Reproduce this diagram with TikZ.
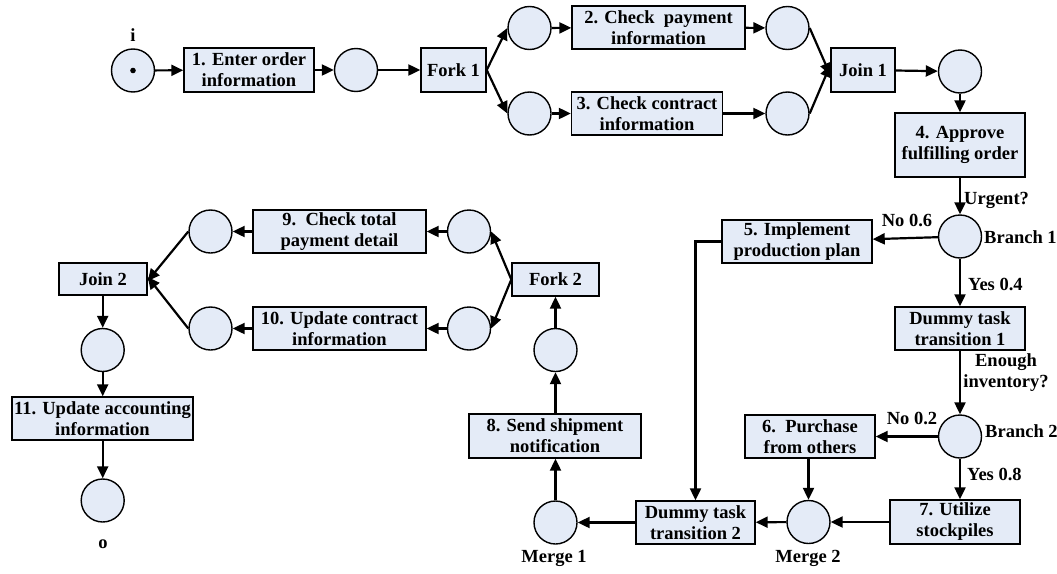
\documentclass[tikz,border=0pt]{standalone}
\usepackage{fontspec}
\setmainfont{Liberation Serif}
\usetikzlibrary{arrows.meta}
\definecolor{boxfill}{RGB}{228,235,247}
\begin{document}
\begin{tikzpicture}[x=1pt,y=-1pt,
  every node/.style={font=\fontsize{18.5}{21}\selectfont\bfseries},
  task/.style={draw=black,line width=1.4pt,fill=boxfill,rectangle,inner sep=0pt,align=center},
  place/.style={draw=black,line width=1.4pt,fill=boxfill,circle,minimum size=43pt,inner sep=0pt},
  lbl/.style={inner sep=0pt},
  flow/.style={line width=2.2pt,-{Triangle[length=12pt,width=11pt]}}]
\useasboundingbox (0,0) rectangle (1057,573);

% places
\node[place] (pi)   at (133,70.5) {};
\fill (pi.center) circle (2.8pt);
\node[place] (p1)   at (356,70) {};
\node[place] (p2a)  at (529.5,28) {};
\node[place] (p3a)  at (529.5,113.5) {};
\node[place] (p2b)  at (787.5,28) {};
\node[place] (p3b)  at (787.5,113.5) {};
\node[place] (p4)   at (960,71.5) {};
\node[place] (br1)  at (960,236.5) {};
\node[place] (br2)  at (960,436.5) {};
\node[place] (mg2)  at (808.5,522) {};
\node[place] (mg1)  at (555.5,522.5) {};
\node[place] (p8)   at (555.5,350) {};
\node[place] (p9a)  at (469,231.5) {};
\node[place] (p10a) at (469,328.5) {};
\node[place] (p9b)  at (210.5,231.5) {};
\node[place] (p10b) at (210.5,328.5) {};
\node[place] (pj)   at (102.7,350) {};
\node[place] (po)   at (102.7,500.5) {};

% transitions
\node[task,minimum width=130pt,minimum height=44pt] (t1) at (249,70) {1. Enter order\\information};
\node[task,minimum width=65pt,minimum height=44pt] (fork1) at (453.5,70) {Fork 1};
\node[task,minimum width=173pt,minimum height=43pt] (t2) at (658.5,27.5) {2. Check\ \ payment\\information};
\node[task,minimum width=151pt,minimum height=43pt] (t3) at (647,113.5) {3. Check contract\\information};
\node[task,minimum width=64pt,minimum height=44pt] (join1) at (863,70) {Join 1};
\node[task,minimum width=130pt,minimum height=64pt] (t4) at (960,145) {4. Approve\\fulfilling order};
\node[task,minimum width=150pt,minimum height=43pt] (t5) at (797,241.5) {5. Implement\\production plan};
\node[task,minimum width=130pt,minimum height=43pt] (d1) at (960,328.5) {Dummy task\\transition 1};
\node[task,minimum width=130pt,minimum height=43pt] (t6) at (810,436.5) {6.\ \ Purchase\\from others};
\node[task,minimum width=130pt,minimum height=44pt] (t7) at (955,522) {7. Utilize\\stockpiles};
\node[task,minimum width=119pt,minimum height=43pt] (d2) at (695.5,522.5) {Dummy task\\transition 2};
\node[task,minimum width=172pt,minimum height=44pt] (t8) at (555,436) {8. Send shipment\\notification};
\node[task,minimum width=87pt,minimum height=33pt] (fork2) at (555.5,279.5) {Fork 2};
\node[task,minimum width=173pt,minimum height=43pt] (t9) at (339.5,231.5) {9.\ \ Check total\\payment detail};
\node[task,minimum width=173pt,minimum height=43pt] (t10) at (339.5,328.5) {10. Update contract\\information};
\node[task,minimum width=88pt,minimum height=32pt] (join2) at (103,279) {Join 2};
\node[task,minimum width=181pt,minimum height=43pt] (t11) at (102.5,418.5) {11. Update accounting\\information};

% labels
\node[lbl] (li) at (133,35) {i};
\node[lbl] (lo) at (103,544) {o};
\node[lbl,anchor=west] (lurg) at (964,200) {Urgent?};
\node[lbl] (lno6) at (907,220) {No 0.6};
\node[lbl,anchor=west] (lb1) at (984,237) {Branch 1};
\node[lbl,anchor=west] (lyes4) at (968,284) {Yes 0.4};
\node[lbl,align=center] (linv) at (1006,373) {Enough\\inventory?};
\node[lbl] (lno2) at (912,418) {No 0.2};
\node[lbl,anchor=west] (lb2) at (985,431) {Branch 2};
\node[lbl,anchor=west] (lyes8) at (967,474) {Yes 0.8};
\node[lbl] (lm1) at (554,558) {Merge 1};
\node[lbl] (lm2) at (808,558) {Merge 2};

% connectors
\draw[flow] (pi) -- (t1);
\draw[flow] (t1) -- (p1);
\draw[flow] (p1) -- (fork1);
\draw[flow] (fork1.east) -- (p2a.west);
\draw[flow] (fork1.east) -- (p3a.west);
\draw[flow] (p2a) -- (t2);
\draw[flow] (p3a) -- (t3);
\draw[flow] (t2) -- (p2b);
\draw[flow] (t3) -- (p3b);
\draw[flow] (p2b.east) -- ([yshift=-5pt]join1.west);
\draw[flow] (p3b.east) -- ([yshift=5pt]join1.west);
\draw[flow] (join1) -- (p4);
\draw[flow] (p4) -- (t4);
\draw[flow] (t4) -- (br1);
\draw[flow] (br1) -- (t5);
\draw[flow] (br1) -- (d1);
\draw[flow] (d1) -- (br2);
\draw[flow] (br2) -- (t6);
\draw[flow] (br2) -- (t7.north -| br2);
\draw[flow] (t6.south -| mg2) -- (mg2);
\draw[flow] (t7) -- (mg2);
\draw[flow] (mg2) -- (d2);
\draw[flow] (t5.west) -| (d2.north);
\draw[flow] (d2) -- (mg1);
\draw[flow] (mg1) -- (t8.south -| mg1);
\draw[flow] (t8.north -| p8) -- (p8);
\draw[flow] (p8) -- (fork2);
\draw[flow] (fork2.west) -- (p9a.east);
\draw[flow] (fork2.west) -- (p10a.east);
\draw[flow] (p9a) -- (t9);
\draw[flow] (p10a) -- (t10);
\draw[flow] (t9) -- (p9b);
\draw[flow] (t10) -- (p10b);
\draw[flow] (p9b.west) -- ([yshift=-2pt]join2.east);
\draw[flow] (p10b.west) -- ([yshift=2pt]join2.east);
\draw[flow] (join2.south -| pj) -- (pj);
\draw[flow] (pj) -- (t11.north -| pj);
\draw[flow] (t11.south -| po) -- (po);
\end{tikzpicture}
\end{document}
